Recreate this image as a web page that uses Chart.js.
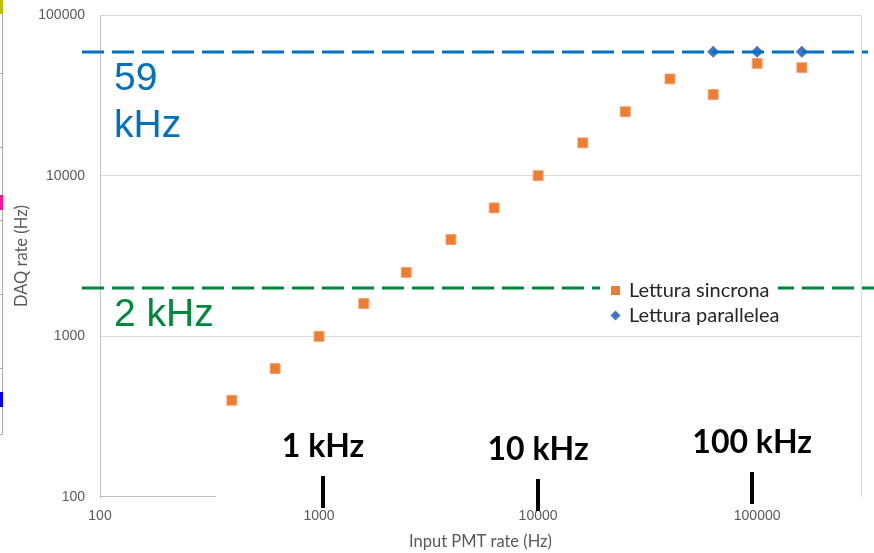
<!DOCTYPE html>
<html>
<head>
<meta charset="utf-8">
<script src="https://cdn.jsdelivr.net/npm/chart.js@4.4.1/dist/chart.umd.min.js"></script>
<style>
html,body{margin:0;padding:0;background:#fff;}
canvas{display:block;}
</style>
</head>
<body>
<canvas id="c" width="874" height="553"></canvas>
<script>
// ---- data ----
const inputRateSync = [400, 630, 1000, 1600, 2500, 4000, 6300, 10000, 16000, 25000, 40000, 63000, 100000, 160000];
const daqRateSync   = [400, 630, 1000, 1600, 2500, 4000, 6300, 10000, 16000, 25000, 40000, 32000, 50000, 47000];
const inputRatePar  = [63000, 100000, 160000];
const daqRatePar    = [59000, 59000, 59000];
const seriesNames   = ['Lettura sincrona', 'Lettura parallelea'];
const tickValues    = [100, 1000, 10000, 100000];
const limitValues   = [59000, 2000];
const limitLabels   = [['59', 'kHz'], ['2 kHz']];
const rateMarks     = [1000, 10000, 100000];
const rateMarkLabels = ['1 kHz', '10 kHz', '100 kHz'];

const ORANGE = '#ED7D31', BLUE = '#4472C4';
const limitColors = ['#0070C0', '#00873C'];

const toPoints = (xs, ys) => xs.map((x, i) => ({x: x, y: ys[i]}));

const overlay = {
  id: 'overlay',
  beforeDraw(chart) {
    const ctx = chart.ctx;
    ctx.save();
    // stray fragment of a neighbouring chart on the left edge
    ctx.strokeStyle = '#a6a6a6'; ctx.lineWidth = 1;
    ctx.beginPath(); ctx.moveTo(2.5, 0); ctx.lineTo(2.5, 434.5); ctx.lineTo(0, 434.5); ctx.stroke();
    [73, 147, 220, 294, 368].forEach(t => { ctx.beginPath(); ctx.moveTo(0, t + 0.5); ctx.lineTo(2.5, t + 0.5); ctx.stroke(); });
    ctx.fillStyle = '#bfbf00'; ctx.fillRect(0, 0, 3, 14);
    ctx.fillStyle = '#ff1493'; ctx.fillRect(0, 195, 3, 15);
    ctx.fillStyle = '#0000ff'; ctx.fillRect(0, 392, 3, 15);
    ctx.restore();
  },
  afterDatasetsDraw(chart) {
    const {ctx, chartArea: ca, scales: {x, y}} = chart;
    ctx.save();
    // plot-area right border
    ctx.strokeStyle = '#d9d9d9'; ctx.lineWidth = 1;
    ctx.beginPath(); ctx.moveTo(Math.round(ca.right) + 0.5, ca.top); ctx.lineTo(Math.round(ca.right) + 0.5, ca.bottom); ctx.stroke();
    // visible part of the bottom axis line
    ctx.strokeStyle = '#bfbfbf';
    ctx.beginPath(); ctx.moveTo(ca.left, Math.round(ca.bottom) - 0.5); ctx.lineTo(ca.left + 116, Math.round(ca.bottom) - 0.5); ctx.stroke();

    // limit lines with labels
    limitValues.forEach((v, i) => {
      const py = Math.round(y.getPixelForValue(v));
      ctx.setLineDash([22, 8]);
      ctx.lineWidth = 3;
      ctx.strokeStyle = limitColors[i];
      ctx.beginPath(); ctx.moveTo(ca.left - 18, py); ctx.lineTo(i === 0 ? ca.right + 7 : chart.width, py); ctx.stroke();
      ctx.setLineDash([]);
      ctx.fillStyle = limitColors[i];
      ctx.font = '39px "Liberation Sans", Arial, sans-serif';
      ctx.textAlign = 'left'; ctx.textBaseline = 'alphabetic';
      limitLabels[i].forEach((t, j) => ctx.fillText(t, ca.left + 14, py + 38 + j * 47));
    });

    // legend (inside plot area)
    const lx = ca.left + 500, ly = ca.top + 263;
    ctx.fillStyle = '#ffffff';
    ctx.fillRect(lx, ly, 178, 52);
    ctx.fillStyle = ORANGE;
    ctx.fillRect(lx + 11, ly + 8, 9, 9);
    ctx.fillStyle = BLUE;
    const dx = lx + 15.5, dy = ly + 37.5;
    ctx.beginPath(); ctx.moveTo(dx, dy - 5); ctx.lineTo(dx + 5, dy); ctx.lineTo(dx, dy + 5); ctx.lineTo(dx - 5, dy); ctx.closePath(); ctx.fill();
    ctx.fillStyle = '#262626';
    ctx.font = '20px Lato, "Open Sans", sans-serif';
    ctx.fillText(seriesNames[0], lx + 29, ly + 19);
    ctx.fillText(seriesNames[1], lx + 29, ly + 44);

    // rate marks under the plot (hand-placed overlay, small nudges)
    const nudgeX = [4, 0, -5], nudgeY = [0, 3, -4];
    ctx.fillStyle = '#000000';
    ctx.font = 'bold 32px Lato, "Open Sans", sans-serif';
    ctx.textAlign = 'center';
    rateMarks.forEach((v, i) => {
      const px = x.getPixelForValue(v) + nudgeX[i];
      ctx.fillText(rateMarkLabels[i], px, ca.bottom - 40 + nudgeY[i]);
      ctx.fillRect(Math.round(px) - 2, ca.bottom - 21 + nudgeY[i], 4, 32);
    });
    ctx.restore();
  }
};

new Chart(document.getElementById('c'), {
  type: 'scatter',
  data: {
    datasets: [
      { label: seriesNames[0], data: toPoints(inputRateSync, daqRateSync),
        pointStyle: 'rect', pointRadius: 7, pointHoverRadius: 7,
        backgroundColor: ORANGE, borderColor: '#F4A070', borderWidth: 1 },
      { label: seriesNames[1], data: toPoints(inputRatePar, daqRatePar),
        pointStyle: 'rectRot', pointRadius: 6, pointHoverRadius: 6,
        backgroundColor: BLUE, borderColor: BLUE, borderWidth: 0 }
    ]
  },
  options: {
    responsive: false,
    animation: false,
    layout: { padding: { top: 15, right: 13, left: 0, bottom: 0 } },
    plugins: { legend: { display: false }, tooltip: { enabled: false } },
    scales: {
      x: {
        type: 'logarithmic', min: 100, max: 298000,
        afterBuildTicks: s => { s.ticks = tickValues.map(v => ({value: v})); },
        afterFit: s => { s.height = 56; },
        grid: { display: false, drawTicks: false },
        border: { display: false },
        ticks: { padding: 11, autoSkip: false, maxRotation: 0, color: '#595959',
          font: { family: '"Liberation Sans", Arial, sans-serif', size: 14 },
          callback: v => String(v) },
        title: { display: true, text: 'Input PMT rate (Hz)', color: '#595959',
          font: { family: 'Lato, "Open Sans", sans-serif', size: 16.5 }, padding: { top: 0, bottom: 1 } }
      },
      y: {
        type: 'logarithmic', min: 100, max: 100000,
        afterBuildTicks: s => { s.ticks = tickValues.map(v => ({value: v})); },
        afterFit: s => { s.width = 100; s.paddingTop = 8; s.paddingBottom = 0; },
        grid: { drawTicks: false, lineWidth: 1,
          color: c => (c.index === 0 ? 'rgba(0,0,0,0)' : '#d9d9d9') },
        border: { color: '#bfbfbf', width: 1 },
        ticks: { padding: 15, color: '#595959',
          font: { family: '"Liberation Sans", Arial, sans-serif', size: 14 },
          callback: v => String(v) },
        title: { display: true, text: 'DAQ rate (Hz)', color: '#595959',
          font: { family: 'Lato, "Open Sans", sans-serif', size: 16.5 }, padding: { top: 12, bottom: 0 } }
      }
    }
  },
  plugins: [overlay]
});
</script>
</body>
</html>
